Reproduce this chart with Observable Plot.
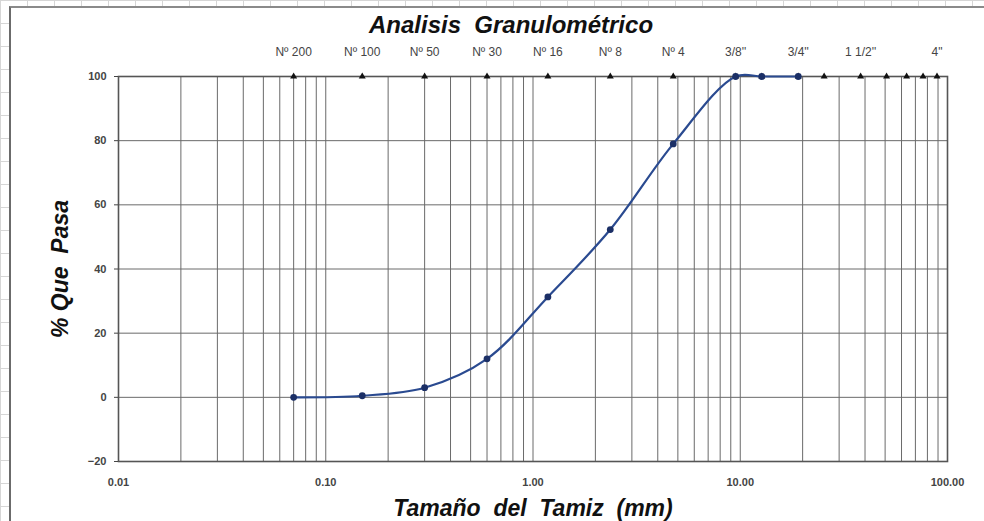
<!DOCTYPE html>
<html><head><meta charset="utf-8">
<script src="https://cdn.jsdelivr.net/npm/d3@7"></script>
<script src="https://cdn.jsdelivr.net/npm/@observablehq/plot@0.6"></script>
<style>
html,body{margin:0;padding:0;background:#fff;}
#wrap{position:relative;width:984px;height:521px;overflow:hidden;background-color:#fff;
 background-image:repeating-linear-gradient(to right,#d6d6d6 0 1px,transparent 1px 27px),repeating-linear-gradient(to bottom,#d6d6d6 0 1px,transparent 1px 23px);}
#area{position:absolute;left:9px;top:6px;right:0;bottom:0;background:#fff;border-left:2px solid #6b6b6b;border-top:2px solid #8a8a8a;}
#chart{position:absolute;left:0;top:0;}
</style></head><body>
<div id="wrap"><div id="area"></div><div id="chart"></div></div>
<script>
// Measured grading curve (sieve opening in mm, % passing)
const sizes   = [0.07, 0.15, 0.3, 0.6, 1.18, 2.36, 4.75, 9.5, 12.7, 19.05];
const passing = [0, 0.5, 3, 12, 31.3, 52.3, 79, 100, 100, 100];
// Sieve series markers along the top
const sieveSizes  = [0.07, 0.15, 0.3, 0.6, 1.18, 2.36, 4.75, 9.5, 12.7, 19.05, 25.4, 38.1, 50.8, 63.5, 76.2, 89];
const sieveLabels = ["Nº 200", "Nº 100", "Nº 50", "Nº 30", "Nº 16", "Nº 8", "Nº 4", "3/8''", "", "3/4''", "", "1 1/2''", "", "", "", "4\""];
// Axes
const xTicks = [0.01, 0.1, 1, 10, 100];
const yTicks = [-20, 0, 20, 40, 60, 80, 100];
const xGrid = [0.02,0.03,0.04,0.05,0.06,0.07,0.08,0.09,0.1,
               0.2,0.3,0.4,0.5,0.6,0.7,0.8,0.9,1,
               2,3,4,5,6,7,8,9,10,
               20,30,40,50,60,70,80,90];
const title = "Analisis  Granulométrico";
const xLabel = "Tamaño  del  Tamiz  (mm)";
const yLabel = "% Que  Pasa";

const curve = sizes.map((s, i) => ({size: s, pass: passing[i]}));
const sieves = sieveSizes.map((s, i) => ({size: s, label: sieveLabels[i]}));

const font = "'Liberation Sans Narrow', 'Liberation Sans', Arial, sans-serif";

const chart = Plot.plot({
  width: 984, height: 521,
  marginLeft: 118, marginRight: 37, marginTop: 76, marginBottom: 60,
  style: {fontFamily: font, background: "transparent", overflow: "visible"},
  x: {type: "log", domain: [0.01, 100]},
  y: {domain: [-20, 100]},
  marks: [
    Plot.ruleX(xGrid, {stroke: "#6a6a6a", strokeWidth: 1}),
    Plot.ruleY(yTicks, {stroke: "#6a6a6a", strokeWidth: 1}),
    Plot.frame({stroke: "#555", strokeWidth: 1.6}),
    Plot.axisY(yTicks, {tickSize: 4, tickPadding: 8, fontSize: 11, fontWeight: "bold", color: "#444", label: null}),
    Plot.axisX(xTicks, {tickSize: 0, tickPadding: 17, fontSize: 11, fontWeight: "bold", color: "#444", tickFormat: d3.format(".2f"), label: null}),
    Plot.dot(sieves, {x: "size", y: () => 100, symbol: "triangle", r: 2.6, fill: "#111", stroke: "none"}),
    Plot.text(sieves.filter(d => d.label), {x: "size", y: () => 100, dy: -24, text: "label", fontSize: 12, fill: "#444"}),
    Plot.line(curve, {x: "size", y: "pass", curve: "catmull-rom", stroke: "#2a4a90", strokeWidth: 2.2}),
    Plot.dot(curve, {x: "size", y: "pass", r: 3.4, fill: "#1b2f66", stroke: "none"}),
    Plot.text([title], {frameAnchor: "top", textAnchor: "middle", lineAnchor: "middle", dx: -22, dy: -51, text: d => d, fontSize: 24, fontWeight: "bold", fontStyle: "italic", fill: "#111"}),
    Plot.text([xLabel], {frameAnchor: "bottom", textAnchor: "middle", lineAnchor: "middle", dy: 47, text: d => d, fontSize: 23, fontWeight: "bold", fontStyle: "italic", fill: "#111"}),
    Plot.text([yLabel], {frameAnchor: "left", textAnchor: "middle", lineAnchor: "middle", dx: -58, rotate: -90, text: d => d, fontSize: 23, fontWeight: "bold", fontStyle: "italic", fill: "#111"})
  ]
});
document.getElementById("chart").appendChild(chart);
</script>
</body></html>
